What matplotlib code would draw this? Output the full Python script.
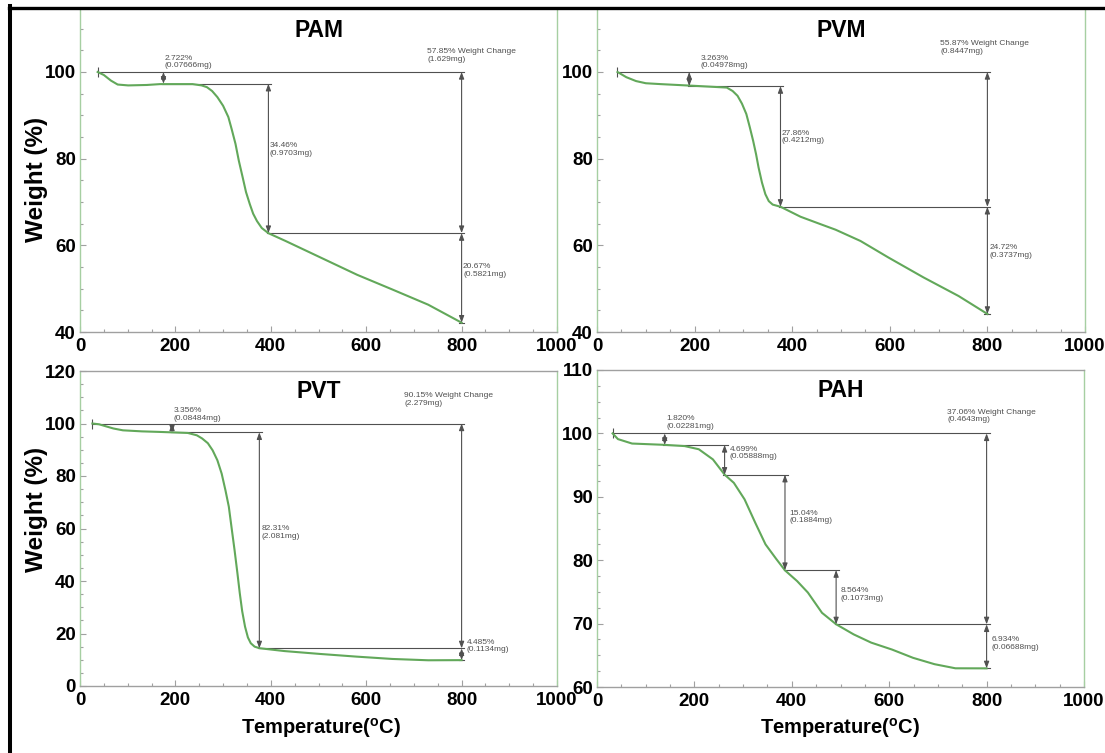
import numpy as np
import matplotlib.pyplot as plt
from matplotlib.lines import Line2D
from matplotlib.ticker import MultipleLocator

plt.rcParams['font.family'] = 'Liberation Sans'
plt.rcParams['mathtext.fontset'] = 'custom'
plt.rcParams['mathtext.rm'] = 'Liberation Sans'
plt.rcParams['mathtext.bf'] = 'Liberation Sans:bold'

# ---- TGA curves ----
pam_temp = [37, 50, 65, 79, 101, 140, 168, 236, 255, 266, 277, 288, 300, 311, 318, 326, 333, 341,
            348, 356, 363, 371, 381, 395, 431, 506, 581, 655, 730, 800]
pam_weight = [100, 99.3, 98.0, 97.1, 96.9, 97.0, 97.2, 97.2, 96.9, 96.5, 95.6, 94.2, 92.2, 89.6, 86.8,
              83.4, 79.5, 75.7, 72.3, 69.5, 67.3, 65.6, 64.0, 62.8, 61.0, 57.1, 53.2, 49.8, 46.3, 42.15]

pvm_temp = [42, 60, 80, 100, 130, 200, 266, 278, 288, 297, 306, 313, 320, 326, 331, 338, 345, 352,
            360, 376, 417, 460, 489, 540, 597, 669, 741, 800]
pvm_weight = [100, 98.8, 97.9, 97.4, 97.2, 96.8, 96.4, 95.6, 94.5, 92.7, 90.3, 87.3, 84.1, 81.0, 78.0,
              74.5, 71.8, 70.2, 69.4, 68.9, 66.6, 64.8, 63.6, 61.0, 57.2, 52.6, 48.3, 44.16]

pvt_temp = [26, 40, 53, 70, 90, 130, 166, 226, 245, 256, 268, 278, 288, 297, 305, 312, 318, 324, 330,
            335, 340, 346, 352, 358, 366, 376, 429, 504, 579, 655, 730, 800]
pvt_weight = [100, 99.7, 99.0, 98.1, 97.4, 97.0, 96.8, 96.4, 95.5, 94.3, 92.5, 89.8, 86.0, 80.9, 74.5,
              68.3, 60.0, 51.8, 43.0, 35.3, 28.5, 22.6, 18.5, 16.3, 15.0, 14.4, 13.3, 12.2, 11.2, 10.3,
              9.8, 9.85]

pah_temp = [32, 43, 72, 137, 180, 209, 238, 262, 281, 303, 325, 346, 368, 386, 411, 433, 462, 491,
            527, 563, 606, 649, 693, 736, 800]
pah_weight = [100, 99.1, 98.4, 98.2, 98.0, 97.5, 95.9, 93.5, 92.2, 89.6, 85.9, 82.5, 80.2, 78.4, 76.7,
              74.9, 71.7, 69.9, 68.3, 67.0, 65.9, 64.6, 63.6, 62.95, 62.94]

# ---- step analysis (arrow temperatures, plateau levels, labels) ----
pam_step_t = [175, 395, 800]
pam_levels = [100, 97.28, 62.82, 42.15]
pam_labels = ['2.722%\n(0.07666mg)', '34.46%\n(0.9703mg)', '20.67%\n(0.5821mg)']
pam_total = '57.85% Weight Change\n(1.629mg)'

pvm_step_t = [189, 376, 800]
pvm_levels = [100, 96.74, 68.88, 44.16]
pvm_labels = ['3.263%\n(0.04978mg)', '27.86%\n(0.4212mg)', '24.72%\n(0.3737mg)']
pvm_total = '55.87% Weight Change\n(0.8447mg)'

pvt_step_t = [193, 376, 800]
pvt_levels = [100, 96.64, 14.33, 9.85]
pvt_labels = ['3.356%\n(0.08484mg)', '82.31%\n(2.081mg)', '4.485%\n(0.1134mg)']
pvt_total = '90.15% Weight Change\n(2.279mg)'

pah_step_t = [139, 262, 386, 491, 800]
pah_levels = [100, 98.18, 93.48, 78.44, 69.88, 62.94]
pah_labels = ['1.820%\n(0.02281mg)', '4.699%\n(0.05888mg)', '15.04%\n(0.1884mg)',
              '8.564%\n(0.1073mg)', '6.934%\n(0.06688mg)']
pah_total = '37.06% Weight Change\n(0.4643mg)'

# label anchor positions (layout only)
pam_label_pos = [(177, 100.6), (397, 82.1), (803, 54.2)]
pam_total_pos = (728, 102.1)
pvm_label_pos = [(212, 100.6), (378, 85.0), (805, 58.5)]
pvm_total_pos = (703, 104.0)
pvt_label_pos = [(196, 100.6), (380, 58.6), (810, 15.2)]
pvt_total_pos = (680, 106.3)
pah_label_pos = [(143, 100.6), (272, 96.9), (395, 86.8), (501, 74.6), (810, 66.9)]
pah_total_pos = (719, 101.6)

CURVE = '#62a85a'
ANN = '#505050'
GSPINE = '#a6cfa2'
GREY = '#a0a0a0'


def arrow(ax, x, y0, y1):
    ax.annotate('', xy=(x, y1), xytext=(x, y0),
                arrowprops=dict(arrowstyle='<|-|>,head_length=0.4,head_width=0.15',
                                color=ANN, lw=0.8, shrinkA=0, shrinkB=0))


def panel(ax, name, temp, weight, step_t, levels, labels, total, label_pos, total_pos,
          ylim, yticks, yminor, top=True):
    ax.plot(temp, weight, color=CURVE, lw=1.5, zorder=3)

    # baseline at 100 % with start cap
    ax.plot([temp[0], step_t[-1] + 6], [levels[0], levels[0]], color=ANN, lw=0.8)
    ax.plot([temp[0]], [levels[0]], marker='|', ms=7, color=ANN, mew=0.8)
    # plateau lines between consecutive step arrows
    for i in range(1, len(levels) - 1):
        ax.plot([step_t[i - 1] - 3, step_t[i] + 6], [levels[i], levels[i]], color=ANN, lw=0.8)
    ax.plot([step_t[-1] - 6, step_t[-1] + 6], [levels[-1], levels[-1]], color=ANN, lw=0.8)

    for i, x in enumerate(step_t):
        arrow(ax, x, levels[i], levels[i + 1])
    arrow(ax, step_t[-1], levels[0], levels[-2])

    for i, (txt, (tx, ty)) in enumerate(zip(labels, label_pos)):
        ax.text(tx, ty, txt, fontsize=6, color=ANN, ha='left',
                va='bottom' if i == 0 else 'center', linespacing=1.15)
    ax.text(total_pos[0], total_pos[1], total, fontsize=6, color=ANN, ha='left', va='bottom',
            linespacing=1.15)

    ax.text(0.5, 0.935, name, transform=ax.transAxes, ha='center', va='center',
            fontsize=16.5, fontweight='bold')

    ax.set_xlim(0, 1000)
    ax.set_ylim(*ylim)
    ax.set_xticks(range(0, 1001, 200))
    ax.set_xticklabels([str(v) for v in range(0, 1001, 200)], fontweight='bold', fontsize=13.5)
    ax.set_yticks(yticks)
    ax.set_yticklabels([str(v) for v in yticks], fontweight='bold', fontsize=13.5)
    ax.xaxis.set_minor_locator(MultipleLocator(50))
    ax.yaxis.set_minor_locator(MultipleLocator(yminor))
    ax.tick_params(which='both', direction='in', color=GREY, width=0.8)
    ax.tick_params(which='major', length=4, pad=3)
    ax.tick_params(which='minor', length=2.5)
    ax.tick_params(axis='x', pad=4)
    for s in ('left', 'right'):
        ax.spines[s].set_color(GSPINE)
    for s in ('top', 'bottom'):
        ax.spines[s].set_color(GREY)
    for s in ax.spines.values():
        s.set_linewidth(1.0)
    ax.spines['top'].set_visible(top)


fig = plt.figure(figsize=(11.05, 7.53), dpi=100)
W, H = 1105, 753

ax1 = fig.add_axes([80 / W, 1 - 332 / H, 477 / W, 322 / H])
ax2 = fig.add_axes([597 / W, 1 - 332 / H, 488 / W, 322 / H])
ax3 = fig.add_axes([80 / W, 1 - 686 / H, 477 / W, 315 / H])
ax4 = fig.add_axes([597 / W, 1 - 687 / H, 487 / W, 317 / H])

panel(ax1, 'PAM', pam_temp, pam_weight, pam_step_t, pam_levels, pam_labels, pam_total,
      pam_label_pos, pam_total_pos, (40, 114.3), [40, 60, 80, 100], 5, top=False)
panel(ax2, 'PVM', pvm_temp, pvm_weight, pvm_step_t, pvm_levels, pvm_labels, pvm_total,
      pvm_label_pos, pvm_total_pos, (40, 114.3), [40, 60, 80, 100], 5, top=False)
panel(ax3, 'PVT', pvt_temp, pvt_weight, pvt_step_t, pvt_levels, pvt_labels, pvt_total,
      pvt_label_pos, pvt_total_pos, (0, 120), [0, 20, 40, 60, 80, 100, 120], 5)
panel(ax4, 'PAH', pah_temp, pah_weight, pah_step_t, pah_levels, pah_labels, pah_total,
      pah_label_pos, pah_total_pos, (60, 110), [60, 70, 80, 90, 100, 110], 2.5)

fig.text(36 / W, 1 - 179 / H, 'Weight (%)', rotation=90, ha='center', va='center',
         fontsize=17.5, fontweight='bold')
fig.text(36 / W, 1 - 509 / H, 'Weight (%)', rotation=90, ha='center', va='center',
         fontsize=17.5, fontweight='bold')
xlab = r'Temperature($^{\mathbf{o}}$C)'
fig.text(321 / W, 1 - 728 / H, xlab, ha='center', va='center', fontsize=14.5, fontweight='bold')
fig.text(840 / W, 1 - 728 / H, xlab, ha='center', va='center', fontsize=14.5, fontweight='bold')

# black frame lines on the left and top edge
fig.add_artist(Line2D([10.3 / W, 10.3 / W], [0, 1 - 6 / H], color='black', lw=2.9,
                      transform=fig.transFigure))
fig.add_artist(Line2D([9 / W, 1], [1 - 7.7 / H, 1 - 7.7 / H], color='black', lw=2.4,
                      transform=fig.transFigure))

fig.savefig('out.png', dpi=100)
